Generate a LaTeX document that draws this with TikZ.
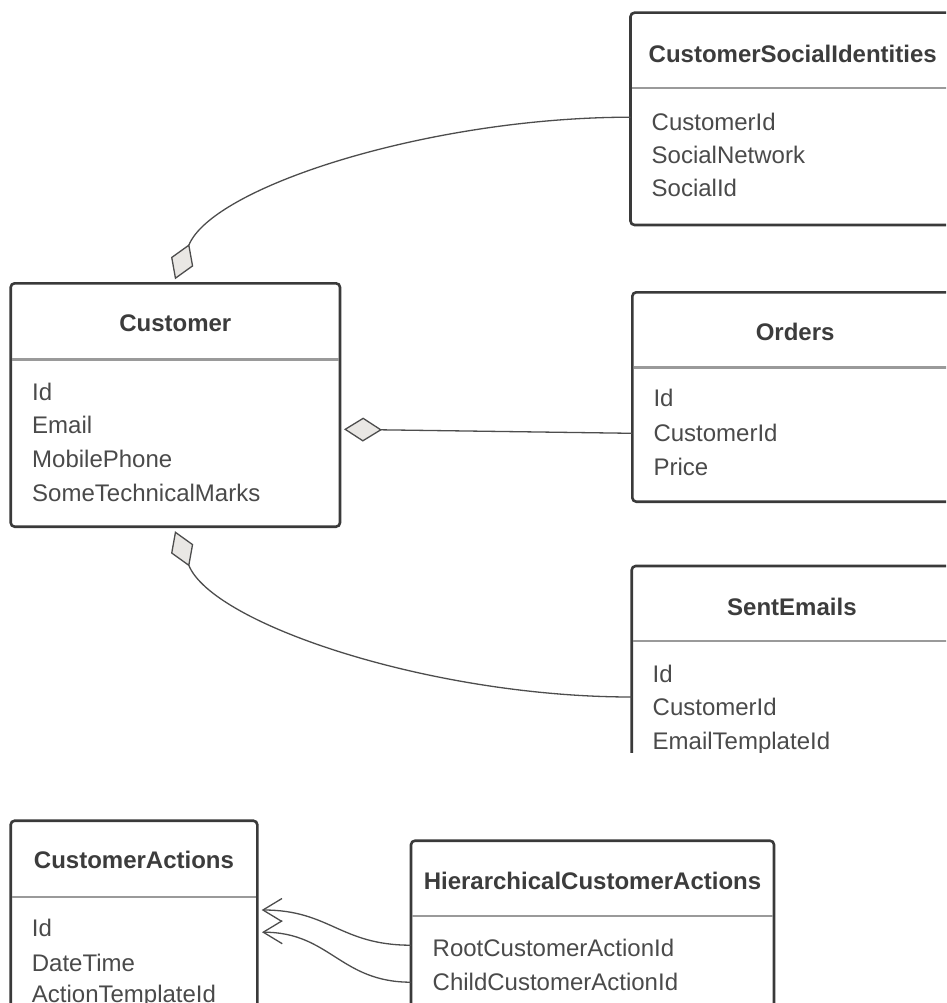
\documentclass[tikz,border=0pt]{standalone}
\usepackage{fontspec}
\newfontfamily\lsans{Liberation Sans}
\usetikzlibrary{arrows.meta,calc}
\definecolor{boxline}{HTML}{3A3A3A}
\definecolor{sepcol}{HTML}{9A9A9A}
\definecolor{titlecol}{HTML}{3C3C3C}
\definecolor{fieldcol}{HTML}{4A4A4A}
\definecolor{conncol}{HTML}{4D4D4D}
\definecolor{dfill}{HTML}{E9E7E4}
\newcommand\fieldfont{\lsans\fontsize{24}{28}\selectfont}
\newcommand\titlefont{\lsans\bfseries\fontsize{24}{28}\selectfont}
\begin{document}
\begin{tikzpicture}[x=1pt,y=-1pt,
  tbox/.style={draw=boxline, line width=2.6pt, rounded corners=4pt, fill=white,
    anchor=north west, inner sep=0pt, outer sep=0pt},
  ttitle/.style={font=\titlefont, text=titlecol, anchor=base, inner sep=0pt},
  tfield/.style={font=\fieldfont, text=fieldcol, anchor=base west, inner sep=0pt},
  tsep/.style={draw=sepcol, line width=2.4pt},
  conn/.style={draw=conncol, line width=1.3pt},
  agg/.style={conn, {Diamond[length=38pt,width=24pt,fill=dfill]}-},
  dep/.style={conn, -{Straight Barb[length=19pt,width=23pt]}}
]
\useasboundingbox (0,0) rectangle (946,1003);
\clip (0,0) rectangle (946,1003);
\fill[white] (0,0) rectangle (946,1003);

% CustomerSocialIdentities
\node[tbox, minimum width=324.5pt, minimum height=212.3pt] (csi) at (630.5,12.7) {};
\draw[tsep] ($(csi.north west)+(1.3,75.6)$) -- ($(csi.north east)+(-1.3,75.6)$);
\node[ttitle] (csiT) at (792.7,62.4) {CustomerSocialIdentities};
\node[tfield] (csi1) at (651.5,130.3) {CustomerId};
\node[tfield] (csi2) at (651.5,163.6) {SocialNetwork};
\node[tfield] (csi3) at (651.5,196.9) {SocialId};

% Customer
\node[tbox, minimum width=329.3pt, minimum height=243.4pt] (cust) at (10.7,283.3) {};
\draw[tsep] ($(cust.north west)+(1.3,76)$) -- ($(cust.north east)+(-1.3,76)$);
\node[ttitle] (custT) at (175.3,331.9) {Customer};
\node[tfield] (cust1) at (32,400.3) {Id};
\node[tfield] (cust2) at (32,433.6) {Email};
\node[tfield] (cust3) at (32,467.9) {MobilePhone};
\node[tfield] (cust4) at (32,501.9) {SomeTechnicalMarks};

% Orders
\node[tbox, minimum width=325.7pt, minimum height=209.4pt] (ord) at (632.3,292.3) {};
\draw[tsep] ($(ord.north west)+(1.3,75)$) -- ($(ord.north east)+(-1.3,75)$);
\node[ttitle] (ordT) at (795.1,340.3) {Orders};
\node[tfield] (ord1) at (653.3,406.9) {Id};
\node[tfield] (ord2) at (653.3,441.9) {CustomerId};
\node[tfield] (ord3) at (653.3,475.3) {Price};

% SentEmails (cut off)
\begin{scope}
\clip (600,550) rectangle (960,752);
\node[tbox, minimum width=320.3pt, minimum height=234pt] (se) at (631.7,566) {};
\draw[tsep] ($(se.north west)+(1.3,74.7)$) -- ($(se.north east)+(-1.3,74.7)$);
\node[ttitle] (seT) at (791.9,615.3) {SentEmails};
\node[tfield] (se1) at (652.5,682.6) {Id};
\node[tfield] (se2) at (652.5,715.9) {CustomerId};
\node[tfield] (se3) at (652.5,749.3) {EmailTemplateId};
\end{scope}

% CustomerActions
\node[tbox, minimum width=246.6pt, minimum height=260pt] (ca) at (10.7,820.7) {};
\draw[tsep] ($(ca.north west)+(1.3,76)$) -- ($(ca.north east)+(-1.3,76)$);
\node[ttitle] (caT) at (134,868.6) {CustomerActions};
\node[tfield] (ca1) at (31.7,936.9) {Id};
\node[tfield] (ca2) at (31.7,971.3) {DateTime};
\node[tfield] (ca3) at (31.7,1002.6) {ActionTemplateId};

% HierarchicalCustomerActions
\node[tbox, minimum width=363pt, minimum height=240pt] (h) at (411,840.7) {};
\draw[tsep] ($(h.north west)+(1.3,75.3)$) -- ($(h.north east)+(-1.3,75.3)$);
\node[ttitle] (hT) at (592.5,889.3) {HierarchicalCustomerActions};
\node[tfield] (h1) at (432.5,956.9) {RootCustomerActionId};
\node[tfield] (h2) at (432.5,990.3) {ChildCustomerActionId};

% connectors
\coordinate (a1) at ($(cust.north west)+(164.3,-4)$);
\coordinate (e1) at ($(csi.north west)+(0,104.5)$);
\draw[agg] (a1) .. controls (212.6,186.6) and (430,117.2) .. (e1);

\coordinate (a2) at ($(cust.north east)+(4,146)$);
\coordinate (e2) at ($(ord.north west)+(0,141)$);
\draw[agg] (a2) -- (e2);

\coordinate (a3) at ($(cust.south west)+(164.3,4.5)$);
\coordinate (e3) at ($(se.north west)+(0,131)$);
\draw[agg] (a3) .. controls (212.6,624) and (431,697) .. (e3);

\coordinate (t1) at ($(ca.north east)+(4.4,89.3)$);
\coordinate (s1) at ($(h.north west)+(0,104.5)$);
\draw[dep] (s1) .. controls (340,945.2) and (330,910) .. (t1);

\coordinate (t2) at ($(ca.north east)+(4.7,111.5)$);
\coordinate (s2) at ($(h.north west)+(0,141.5)$);
\draw[dep] (s2) .. controls (340,982.2) and (330,932.2) .. (t2);
\end{tikzpicture}
\end{document}
